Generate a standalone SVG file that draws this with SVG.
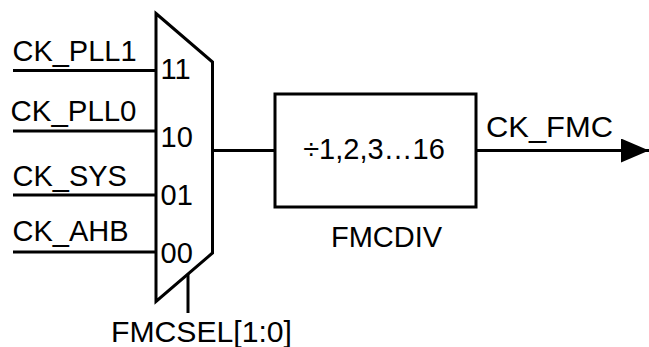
<svg xmlns="http://www.w3.org/2000/svg" width="649" height="347" viewBox="0 0 649 347">
<style>
  .ln { stroke: #000; stroke-width: 3; fill: none; }
  .shape { stroke: #000; stroke-width: 3; fill: #fff; stroke-linejoin: miter; }
  text { font-family: "Liberation Sans", Arial, sans-serif; font-size: 29px; fill: #000; }
</style>
<defs>
  <marker id="arrow" markerUnits="userSpaceOnUse" markerWidth="30" markerHeight="26" refX="28" refY="12" orient="auto">
    <path d="M0,0 L28,12 L0,24 Z" fill="#000"/>
  </marker>
</defs>
<g id="connectors">
  <line class="ln" x1="13" y1="70.5" x2="156" y2="70.5"/>
  <line class="ln" x1="13" y1="131" x2="156" y2="131"/>
  <line class="ln" x1="13" y1="195" x2="156" y2="195"/>
  <line class="ln" x1="13" y1="252" x2="156" y2="252"/>
  <line class="ln" x1="212.5" y1="150.5" x2="275" y2="150.5"/>
  <line class="ln" x1="476" y1="150.5" x2="649" y2="150.5" marker-end="url(#arrow)"/>
  <line class="ln" x1="188" y1="274" x2="188" y2="313"/>
</g>
<g id="inputs">
  <text x="12.5" y="61" textLength="124" lengthAdjust="spacingAndGlyphs">CK_PLL1</text>
  <text x="10.5" y="121" textLength="126" lengthAdjust="spacingAndGlyphs">CK_PLL0</text>
  <text x="12.5" y="186">CK_SYS</text>
  <text x="12.5" y="241">CK_AHB</text>
</g>
<g id="mux">
  <polygon class="shape" points="156,13.5 212.5,62 212.5,253 156,301.5"/>
  <text x="160.5" y="79">11</text>
  <text x="160.5" y="147">10</text>
  <text x="160.5" y="205">01</text>
  <text x="160.5" y="263">00</text>
  <text x="111" y="342" textLength="181" lengthAdjust="spacingAndGlyphs">FMCSEL[1:0]</text>
</g>
<g id="fmcdiv">
  <rect class="shape" x="275" y="94" width="201" height="113"/>
  <text x="374" y="159" text-anchor="middle">÷1,2,3…16</text>
  <text x="331" y="247">FMCDIV</text>
</g>
<g id="output">
  <text x="486" y="137" style="font-size:30px" textLength="127" lengthAdjust="spacingAndGlyphs">CK_FMC</text>
</g>
</svg>
